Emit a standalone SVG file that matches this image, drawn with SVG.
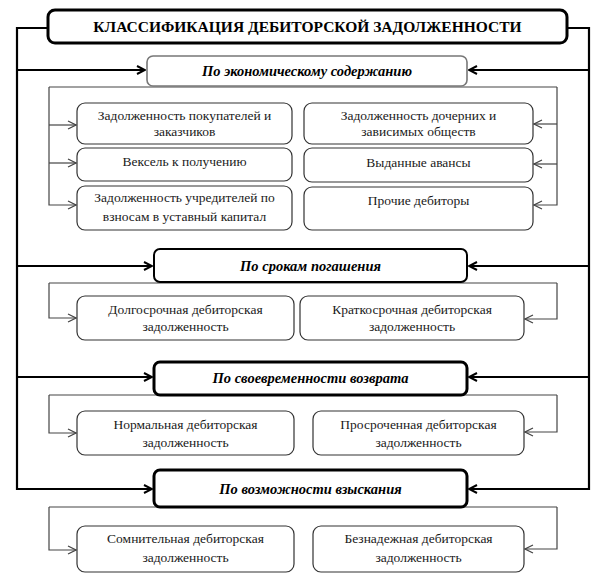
<svg xmlns="http://www.w3.org/2000/svg" width="605" height="587" viewBox="0 0 605 587" font-family="'Liberation Serif', 'DejaVu Serif', serif">
<defs>
<style>
text{font-family:'Liberation Serif','DejaVu Serif',serif}
.t{fill:#1a1a1a;font-size:13.5px;text-anchor:middle}
.h{fill:#000;font-size:14.5px;font-weight:bold;font-style:italic;text-anchor:middle}
.ti{fill:#000;font-size:15.5px;font-weight:bold;text-anchor:middle}
.sb{fill:#fff;stroke:#333;stroke-width:1.2}
.thick{fill:none;stroke:#000;stroke-width:2.2}
.thin{fill:none;stroke:#444;stroke-width:1.2}
</style>
<marker id="ab" viewBox="0 0 10 10" refX="9" refY="5" markerWidth="10" markerHeight="10" markerUnits="userSpaceOnUse" orient="auto">
<path d="M1,1 L9,5 L1,9" fill="none" stroke="#000" stroke-width="2"/>
</marker>
<marker id="as" viewBox="0 0 10 10" refX="9" refY="5" markerWidth="10" markerHeight="10" markerUnits="userSpaceOnUse" orient="auto">
<path d="M1,1 L9,5 L1,9" fill="none" stroke="#444" stroke-width="1.2"/>
</marker>
</defs>
<rect width="605" height="587" fill="#fff"/>
<g id="connectors">
<path class="thick" d="M48,28 H17 V489 H152" marker-end="url(#ab)"/>
<path class="thick" d="M17,70 H145" marker-end="url(#ab)"/>
<path class="thick" d="M17,266 H152" marker-end="url(#ab)"/>
<path class="thick" d="M17,377 H152" marker-end="url(#ab)"/>
<path class="thick" d="M567,28 H589 V489 H469" marker-end="url(#ab)"/>
<path class="thick" d="M589,70 H469" marker-end="url(#ab)"/>
<path class="thick" d="M589,266 H469" marker-end="url(#ab)"/>
<path class="thick" d="M589,377 H469" marker-end="url(#ab)"/>
<path class="thin" d="M49,87 H557"/>
<path class="thin" d="M49,87 V205 H76" marker-end="url(#as)"/>
<path class="thin" d="M49,125 H76" marker-end="url(#as)"/>
<path class="thin" d="M49,163 H76" marker-end="url(#as)"/>
<path class="thin" d="M557,87 V205 H534" marker-end="url(#as)"/>
<path class="thin" d="M557,124 H534" marker-end="url(#as)"/>
<path class="thin" d="M557,164 H534" marker-end="url(#as)"/>
<path class="thin" d="M49,283 H557"/>
<path class="thin" d="M49,283 V318 H76" marker-end="url(#as)"/>
<path class="thin" d="M557,283 V319 H525" marker-end="url(#as)"/>
<path class="thin" d="M49,395 H557"/>
<path class="thin" d="M49,395 V433 H76" marker-end="url(#as)"/>
<path class="thin" d="M557,395 V432 H525" marker-end="url(#as)"/>
<path class="thin" d="M49,507 H557"/>
<path class="thin" d="M49,507 V550 H76" marker-end="url(#as)"/>
<path class="thin" d="M557,507 V549 H525" marker-end="url(#as)"/>
</g>
<g id="title">
<rect x="48" y="10" width="519" height="33" rx="7" fill="#fff" stroke="#000" stroke-width="3"/>
<text class="ti" x="307.5" y="32">КЛАССИФИКАЦИЯ ДЕБИТОРСКОЙ ЗАДОЛЖЕННОСТИ</text>
</g>
<g id="h1">
<rect x="147" y="56" width="320" height="30" rx="6" fill="#fff" stroke="#777" stroke-width="1.6"/>
<text class="h" x="307" y="76">По экономическому содержанию</text>
</g>
<g id="a1">
<rect class="sb" x="77" y="103" width="215" height="41" rx="8"/>
<text class="t" x="184.5" y="120">Задолженность покупателей и</text>
<text class="t" x="184.5" y="136">заказчиков</text>
</g>
<g id="a2">
<rect class="sb" x="77" y="148" width="215" height="33" rx="8"/>
<text class="t" x="184.5" y="166">Вексель к получению</text>
</g>
<g id="a3">
<rect class="sb" x="77" y="186" width="215" height="44" rx="8"/>
<text class="t" x="184.5" y="202">Задолженность учредителей по</text>
<text class="t" x="184.5" y="221">взносам в уставный капитал</text>
</g>
<g id="b1">
<rect class="sb" x="304" y="103" width="229" height="41" rx="8"/>
<text class="t" x="418.5" y="120">Задолженность дочерних и</text>
<text class="t" x="418.5" y="136">зависимых обществ</text>
</g>
<g id="b2">
<rect class="sb" x="304" y="148" width="229" height="34" rx="8"/>
<text class="t" x="418.5" y="167">Выданные авансы</text>
</g>
<g id="b3">
<rect class="sb" x="304" y="187" width="229" height="43" rx="8"/>
<text class="t" x="418.5" y="205">Прочие дебиторы</text>
</g>
<g id="h2">
<rect x="154" y="249" width="313" height="33" rx="6" fill="#fff" stroke="#000" stroke-width="2"/>
<text class="h" x="310.5" y="271">По срокам погашения</text>
</g>
<g id="c1">
<rect class="sb" x="77" y="296" width="217" height="44" rx="8"/>
<text class="t" x="185.5" y="314">Долгосрочная дебиторская</text>
<text class="t" x="185.5" y="331">задолженность</text>
</g>
<g id="c2">
<rect class="sb" x="300" y="296" width="224" height="44" rx="8"/>
<text class="t" x="412" y="314">Краткосрочная дебиторская</text>
<text class="t" x="412" y="331">задолженность</text>
</g>
<g id="h3">
<rect x="154" y="362" width="313" height="33" rx="6" fill="#fff" stroke="#000" stroke-width="3"/>
<text class="h" x="310.5" y="383">По своевременности возврата</text>
</g>
<g id="d1">
<rect class="sb" x="77" y="411" width="217" height="44" rx="8"/>
<text class="t" x="185.5" y="429">Нормальная дебиторская</text>
<text class="t" x="185.5" y="447">задолженность</text>
</g>
<g id="d2">
<rect class="sb" x="313" y="411" width="211" height="44" rx="8"/>
<text class="t" x="418.5" y="429">Просроченная дебиторская</text>
<text class="t" x="418.5" y="447">задолженность</text>
</g>
<g id="h4">
<rect x="154" y="470" width="313" height="37" rx="6" fill="#fff" stroke="#000" stroke-width="3"/>
<text class="h" x="310.5" y="494">По возможности взыскания</text>
</g>
<g id="e1">
<rect class="sb" x="77" y="526" width="217" height="46" rx="8"/>
<text class="t" x="185.5" y="543">Сомнительная дебиторская</text>
<text class="t" x="185.5" y="562">задолженность</text>
</g>
<g id="e2">
<rect class="sb" x="313" y="526" width="211" height="46" rx="8"/>
<text class="t" x="418.5" y="543">Безнадежная дебиторская</text>
<text class="t" x="418.5" y="562">задолженность</text>
</g>
</svg>
